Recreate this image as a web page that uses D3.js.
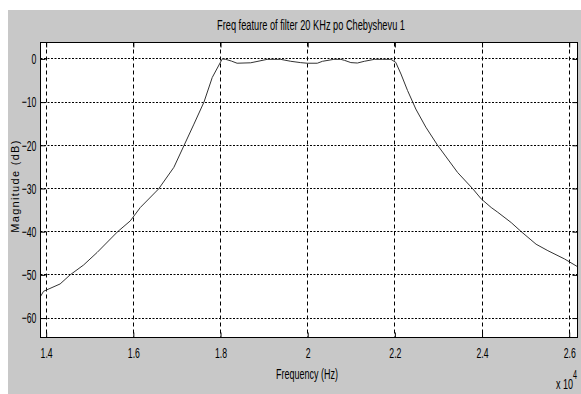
<!DOCTYPE html>
<html>
<head>
<meta charset="utf-8">
<script src="https://cdn.jsdelivr.net/npm/d3@7"></script>
<style>
    body { margin: 0; background: #ffffff; }
    .tick text { font-family: "Liberation Sans Narrow", "Liberation Sans", Arial, sans-serif; font-size: 15px; fill: #000; }
    .lbl { font-family: "Liberation Sans Narrow", "Liberation Sans", Arial, sans-serif; fill: #000; }
</style>
</head>
<body>
<div class="graph"></div>
<script>
(function() {
    // frequency (Hz) and magnitude (dB)
    var freq = [13870, 13940, 14320, 14550, 14860, 15170, 15640, 15930, 16160, 16580,
        16930, 17160, 17390, 17620, 17810, 18040, 18120, 18250, 18380, 18690,
        18860, 19070, 19380, 19610, 19840, 19990, 20220, 20340, 20600, 20760,
        20850, 20990, 21140, 21300, 21530, 21720, 21910, 22020, 22140, 22290,
        22410, 22480, 22710, 22980, 23440, 23790, 23980, 24210, 24360, 24670,
        24900, 25240, 25510, 25890, 26190];
    var magnitude = [-55.0, -53.8, -52.1, -50.0, -47.7, -44.8, -40.0, -37.5, -34.4, -30.1,
        -25.1, -20.1, -15.1, -10.0, -4.3, 0.0, -0.1, -0.5, -1.0, -0.9,
        -0.55, -0.1, -0.1, -0.55, -0.86, -1.0, -1.0, -0.55, -0.1, -0.1,
        -0.35, -0.85, -0.95, -0.55, -0.1, -0.1, -0.1, -0.8, -3.5, -7.3,
        -10.0, -11.6, -15.8, -20.0, -26.3, -30.1, -32.4, -34.4, -35.5, -37.9,
        -40.0, -42.9, -44.4, -46.3, -48.1];
    var xTicks = [14000, 16000, 18000, 20000, 22000, 24000, 26000];
    var yTicks = [0, -10, -20, -30, -40, -50, -60];

    var widthBase = 581;
    var heightBase = 394;
    var margins = { "top": 42, "right": 4, "bottom": 57, "left": 40 };
    var width = widthBase - margins.left - margins.right;
    var height = heightBase - margins.top - margins.bottom;

    var x = d3.scaleLinear().domain([13870, 26190]).range([0, width]);
    var y = d3.scaleLinear().domain([-64.5, 3.8]).range([height, 0]);

    var svg = d3.select(".graph")
        .append("svg")
            .attr("width", widthBase)
            .attr("height", heightBase);

    // grey figure background
    svg.append("rect")
        .attr("x", 8).attr("y", 10)
        .attr("width", widthBase - 8).attr("height", heightBase - 10)
        .attr("fill", "#c8c8c8");

    var graph = svg.append("g")
        .attr("transform", "translate(" + (margins.left + 0.5) + "," + (margins.top + 0.5) + ")");

    graph.append("rect")
        .attr("width", width).attr("height", height)
        .attr("fill", "#ffffff");

    // grid
    graph.selectAll(".hgrid").data(yTicks).enter()
        .append("line")
            .attr("class", "hgrid")
            .attr("x1", 0).attr("x2", width)
            .attr("y1", function(d) { return Math.round(y(d)); })
            .attr("y2", function(d) { return Math.round(y(d)); })
            .attr("stroke", "#000").attr("stroke-width", 1)
            .attr("stroke-dasharray", "2,1.5");

    graph.selectAll(".vgrid").data(xTicks).enter()
        .append("line")
            .attr("class", "vgrid")
            .attr("y1", 0).attr("y2", height)
            .attr("x1", function(d) { return Math.round(x(d)); })
            .attr("x2", function(d) { return Math.round(x(d)); })
            .attr("stroke", "#000").attr("stroke-width", 1)
            .attr("stroke-dasharray", "4,3");

    // axes, ticks pointing inwards
    var fmt = function(d) { return d3.format("~g")(d / 10000); };
    var xAxis = graph.append("g")
        .attr("transform", "translate(0," + height + ")")
        .call(d3.axisBottom(x).tickValues(xTicks).tickSizeInner(-5).tickSizeOuter(0).tickPadding(10).tickFormat(fmt));
    graph.append("g")
        .call(d3.axisTop(x).tickValues(xTicks).tickSizeInner(-5).tickSizeOuter(0).tickFormat(""));
    var yAxis = graph.append("g")
        .call(d3.axisLeft(y).tickValues(yTicks).tickSizeInner(-5).tickSizeOuter(0).tickPadding(7));
    graph.append("g")
        .attr("transform", "translate(" + width + ",0)")
        .call(d3.axisRight(y).tickValues(yTicks).tickSizeInner(-5).tickSizeOuter(0).tickFormat(""));

    graph.selectAll(".domain").remove();
    graph.selectAll(".tick line").attr("stroke", "#000");
    xAxis.selectAll(".tick text").attr("transform", "scale(0.58,1)");
    yAxis.selectAll(".tick text").attr("transform", "scale(0.58,1)");

    // response curve
    var line = d3.line()
        .x(function(d, i) { return x(freq[i]); })
        .y(function(d) { return y(d); });

    graph.append("path")
        .datum(magnitude)
        .attr("d", line)
        .attr("fill", "none")
        .attr("stroke", "#333")
        .attr("stroke-width", 1);

    // frame
    graph.append("rect")
        .attr("width", width).attr("height", height)
        .attr("fill", "none").attr("stroke", "#000");

    // title and labels
    svg.append("text")
        .attr("class", "lbl")
        .attr("transform", "translate(311,30) scale(0.66,1)")
        .style("font-size", "14px")
        .style("text-anchor", "middle")
        .text("Freq feature of filter 20 KHz po Chebyshevu 1");

    svg.append("text")
        .attr("class", "lbl")
        .attr("transform", "translate(307,379) scale(0.6,1)")
        .style("font-size", "15px")
        .style("text-anchor", "middle")
        .text("Frequency (Hz)");

    svg.append("text")
        .attr("transform", "translate(19,186) rotate(-90)")
        .style("font-family", "'Liberation Sans', Arial, sans-serif")
        .style("font-size", "11px")
        .style("letter-spacing", "1.3px")
        .style("text-anchor", "middle")
        .text("Magnitude (dB)");

    var mult = svg.append("text")
        .attr("class", "lbl")
        .attr("transform", "translate(556,389) scale(0.6,1)")
        .style("font-size", "15px");
    mult.append("tspan").text("x 10");
    mult.append("tspan").attr("dy", -10).style("font-size", "12px").text("4");
})();
</script>
</body>
</html>
